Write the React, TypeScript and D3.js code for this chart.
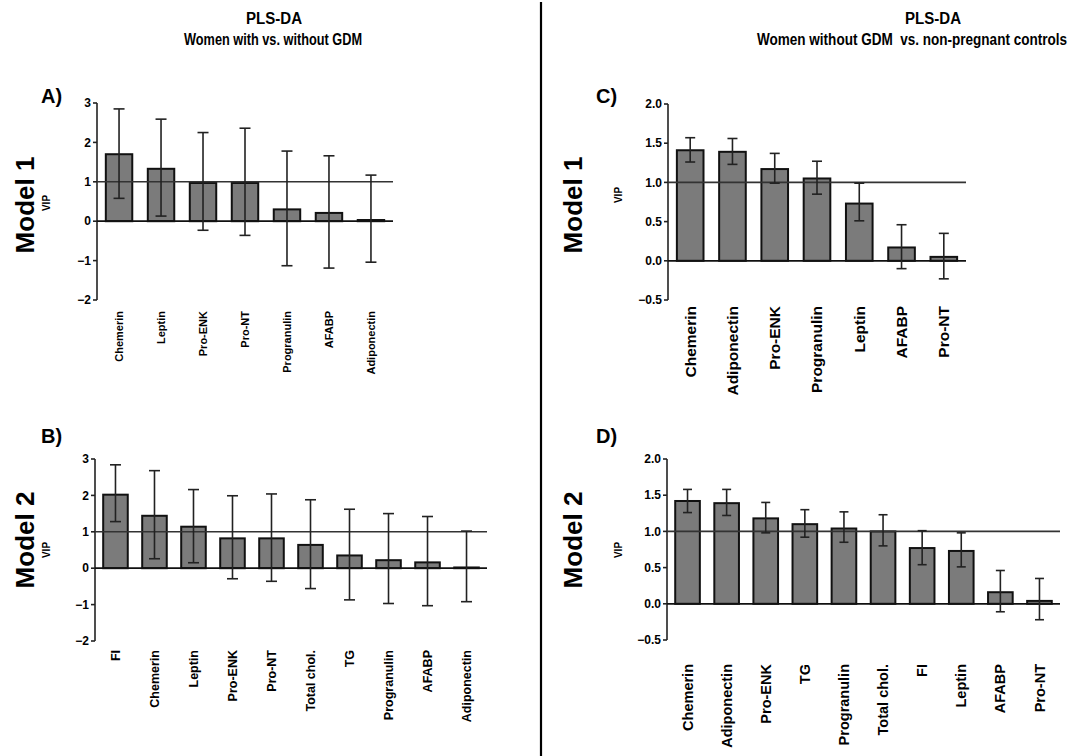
import React from 'react';
import * as d3 from 'd3';

const width = 1076;
const height = 756;

const font = "'Liberation Sans', Arial, sans-serif";

// panel A: Model 1, with vs without GDM
const catsA = ['Chemerin', 'Leptin', 'Pro-ENK', 'Pro-NT', 'Progranulin', 'AFABP', 'Adiponectin'];
const vipA = [1.70, 1.33, 0.97, 0.97, 0.30, 0.21, 0.03];
const hiA = [2.85, 2.59, 2.25, 2.36, 1.78, 1.66, 1.17];
const loA = [0.58, 0.13, -0.23, -0.36, -1.13, -1.19, -1.04];

// panel B: Model 2, with vs without GDM
const catsB = ['FI', 'Chemerin', 'Leptin', 'Pro-ENK', 'Pro-NT', 'Total chol.', 'TG', 'Progranulin', 'AFABP', 'Adiponectin'];
const vipB = [2.02, 1.44, 1.14, 0.82, 0.82, 0.64, 0.35, 0.22, 0.16, 0.02];
const hiB = [2.84, 2.68, 2.16, 1.99, 2.04, 1.88, 1.62, 1.50, 1.42, 1.02];
const loB = [1.28, 0.26, 0.15, -0.29, -0.36, -0.56, -0.87, -0.97, -1.03, -0.92];

// panel C: Model 1, without GDM vs non-pregnant
const catsC = ['Chemerin', 'Adiponectin', 'Pro-ENK', 'Progranulin', 'Leptin', 'AFABP', 'Pro-NT'];
const vipC = [1.41, 1.39, 1.17, 1.05, 0.73, 0.17, 0.05];
const hiC = [1.57, 1.56, 1.37, 1.27, 0.99, 0.46, 0.35];
const loC = [1.26, 1.23, 0.99, 0.85, 0.51, -0.10, -0.23];

// panel D: Model 2, without GDM vs non-pregnant
const catsD = ['Chemerin', 'Adiponectin', 'Pro-ENK', 'TG', 'Progranulin', 'Total chol.', 'FI', 'Leptin', 'AFABP', 'Pro-NT'];
const vipD = [1.42, 1.39, 1.18, 1.10, 1.04, 1.00, 0.77, 0.73, 0.16, 0.04];
const hiD = [1.58, 1.58, 1.40, 1.30, 1.27, 1.23, 1.01, 0.98, 0.46, 0.35];
const loD = [1.26, 1.22, 0.98, 0.92, 0.85, 0.80, 0.54, 0.51, -0.11, -0.22];

const intDomain = [-2, 3];
const decDomain = [-0.5, 2];

type PanelProps = {
  cats: string[];
  vip: number[];
  hi: number[];
  lo: number[];
  domain: number[];
  fmt: string;
  x0: number;
  x1: number;
  yTop: number;
  yBot: number;
  labelTop: number;
  labelSize: number;
  tickSize: number;
  letter: string;
  letterX: number;
  letterY: number;
  model: string;
  modelX: number;
  modelY: number;
  vipX: number;
  vipY: number;
  cap: number;
};

// condensed bold heading: squeezed horizontally like the original figure
const Heading = ({ x, y, w, children }: { x: number; y: number; w: number; children: string }) => {
  const sx = 0.82;
  return (
    <text transform={`translate(${x},${y}) scale(${sx},1)`} textAnchor="middle" fontFamily={font}
      fontWeight="bold" fontSize={16} textLength={w / sx} lengthAdjust="spacingAndGlyphs"
      style={{ whiteSpace: 'pre' }}>{children}</text>
  );
};

const Panel = (p: PanelProps) => {
  const y = d3.scaleLinear().domain(p.domain).range([p.yBot, p.yTop]);
  const x = d3.scaleBand<string>().domain(p.cats).range([p.x0, p.x1]).paddingInner(0.37).paddingOuter(0.21);
  const ticks = y.ticks(5);
  const f = d3.format(p.fmt);
  const bw = x.bandwidth();
  return (
    <g>
      <text x={p.letterX} y={p.letterY} fontFamily={font} fontWeight="bold" fontSize={20}>{p.letter}</text>
      <text transform={`translate(${p.modelX},${p.modelY}) rotate(-90)`} textAnchor="middle"
        fontFamily={font} fontWeight="bold" fontSize={26}>{p.model}</text>
      <text transform={`translate(${p.vipX},${p.vipY}) rotate(-90)`} textAnchor="middle"
        fontFamily={font} fontWeight="bold" fontSize={10}>VIP</text>

      {/* y axis */}
      <line x1={p.x0} x2={p.x0} y1={y(p.domain[1])} y2={y(p.domain[0])} stroke="#222" strokeWidth={1.6} />
      {ticks.map(t => (
        <g key={t}>
          <line x1={p.x0 - 4} x2={p.x0} y1={y(t)} y2={y(t)} stroke="#222" strokeWidth={1.6} />
          <text x={p.x0 - 6} y={y(t)} dy="0.35em" textAnchor="end" fontFamily={font}
            fontWeight="bold" fontSize={p.tickSize}>{f(t)}</text>
        </g>
      ))}

      {/* bars */}
      {p.cats.map((c, i) => (
        <rect key={c} x={x(c)} width={bw} y={y(Math.max(0, p.vip[i]))}
          height={Math.abs(y(p.vip[i]) - y(0))} fill="#7b7b7b" stroke="#111" strokeWidth={2} />
      ))}

      {/* zero line and VIP = 1 threshold */}
      <line x1={p.x0} x2={p.x1} y1={y(0)} y2={y(0)} stroke="#111" strokeWidth={1.8} />
      <line x1={p.x0} x2={p.x1} y1={y(1)} y2={y(1)} stroke="#333" strokeWidth={1.6} />

      {/* error bars */}
      {p.cats.map((c, i) => {
        const cx = (x(c) as number) + bw / 2;
        return (
          <g key={c} stroke="#222" strokeWidth={1.6}>
            <line x1={cx} x2={cx} y1={y(p.hi[i])} y2={y(p.lo[i])} />
            <line x1={cx - p.cap / 2} x2={cx + p.cap / 2} y1={y(p.hi[i])} y2={y(p.hi[i])} />
            <line x1={cx - p.cap / 2} x2={cx + p.cap / 2} y1={y(p.lo[i])} y2={y(p.lo[i])} />
          </g>
        );
      })}

      {/* category labels */}
      {p.cats.map(c => (
        <text key={c} transform={`translate(${(x(c) as number) + bw / 2},${p.labelTop}) rotate(-90)`}
          textAnchor="end" dy="0.35em" fontFamily={font} fontWeight="bold" fontSize={p.labelSize}>{c}</text>
      ))}
    </g>
  );
};

const App = () => {
  return (
    <svg width={width} height={height} style={{ position: 'absolute', left: 0, top: 0, background: '#fff' }}>
      <rect width={width} height={height} fill="#fff" />
      <Heading x={274} y={24} w={56}>PLS-DA</Heading>
      <Heading x={273} y={45} w={178}>Women with vs. without GDM</Heading>
      <Heading x={933} y={24} w={56}>PLS-DA</Heading>
      <Heading x={912} y={45} w={310}>Women without GDM  vs. non-pregnant controls</Heading>
      <line x1={541} x2={541} y1={2} y2={756} stroke="#000" strokeWidth={2.2} />

      <Panel cats={catsA} vip={vipA} hi={hiA} lo={loA} domain={intDomain} fmt="d"
        x0={97} x1={393} yTop={103} yBot={300} labelTop={311} labelSize={11} tickSize={12} cap={11}
        letter="A)" letterX={41} letterY={103} model="Model 1" modelX={34} modelY={205} vipX={50} vipY={203} />
      <Panel cats={catsB} vip={vipB} hi={hiB} lo={loB} domain={intDomain} fmt="d"
        x0={95} x1={487} yTop={459} yBot={641} labelTop={650} labelSize={12.5} tickSize={12} cap={11}
        letter="B)" letterX={41} letterY={443} model="Model 2" modelX={34} modelY={540} vipX={50} vipY={550} />
      <Panel cats={catsC} vip={vipC} hi={hiC} lo={loC} domain={decDomain} fmt=".1f"
        x0={668} x1={966} yTop={104} yBot={300} labelTop={306} labelSize={15.5} tickSize={12} cap={10}
        letter="C)" letterX={596} letterY={103} model="Model 1" modelX={582} modelY={205} vipX={622} vipY={195} />
      <Panel cats={catsD} vip={vipD} hi={hiD} lo={loD} domain={decDomain} fmt=".1f"
        x0={667} x1={1060} yTop={459} yBot={640} labelTop={664} labelSize={14.5} tickSize={12} cap={9}
        letter="D)" letterX={596} letterY={443} model="Model 2" modelX={582} modelY={540} vipX={622} vipY={550} />
    </svg>
  );
};

export default App;
